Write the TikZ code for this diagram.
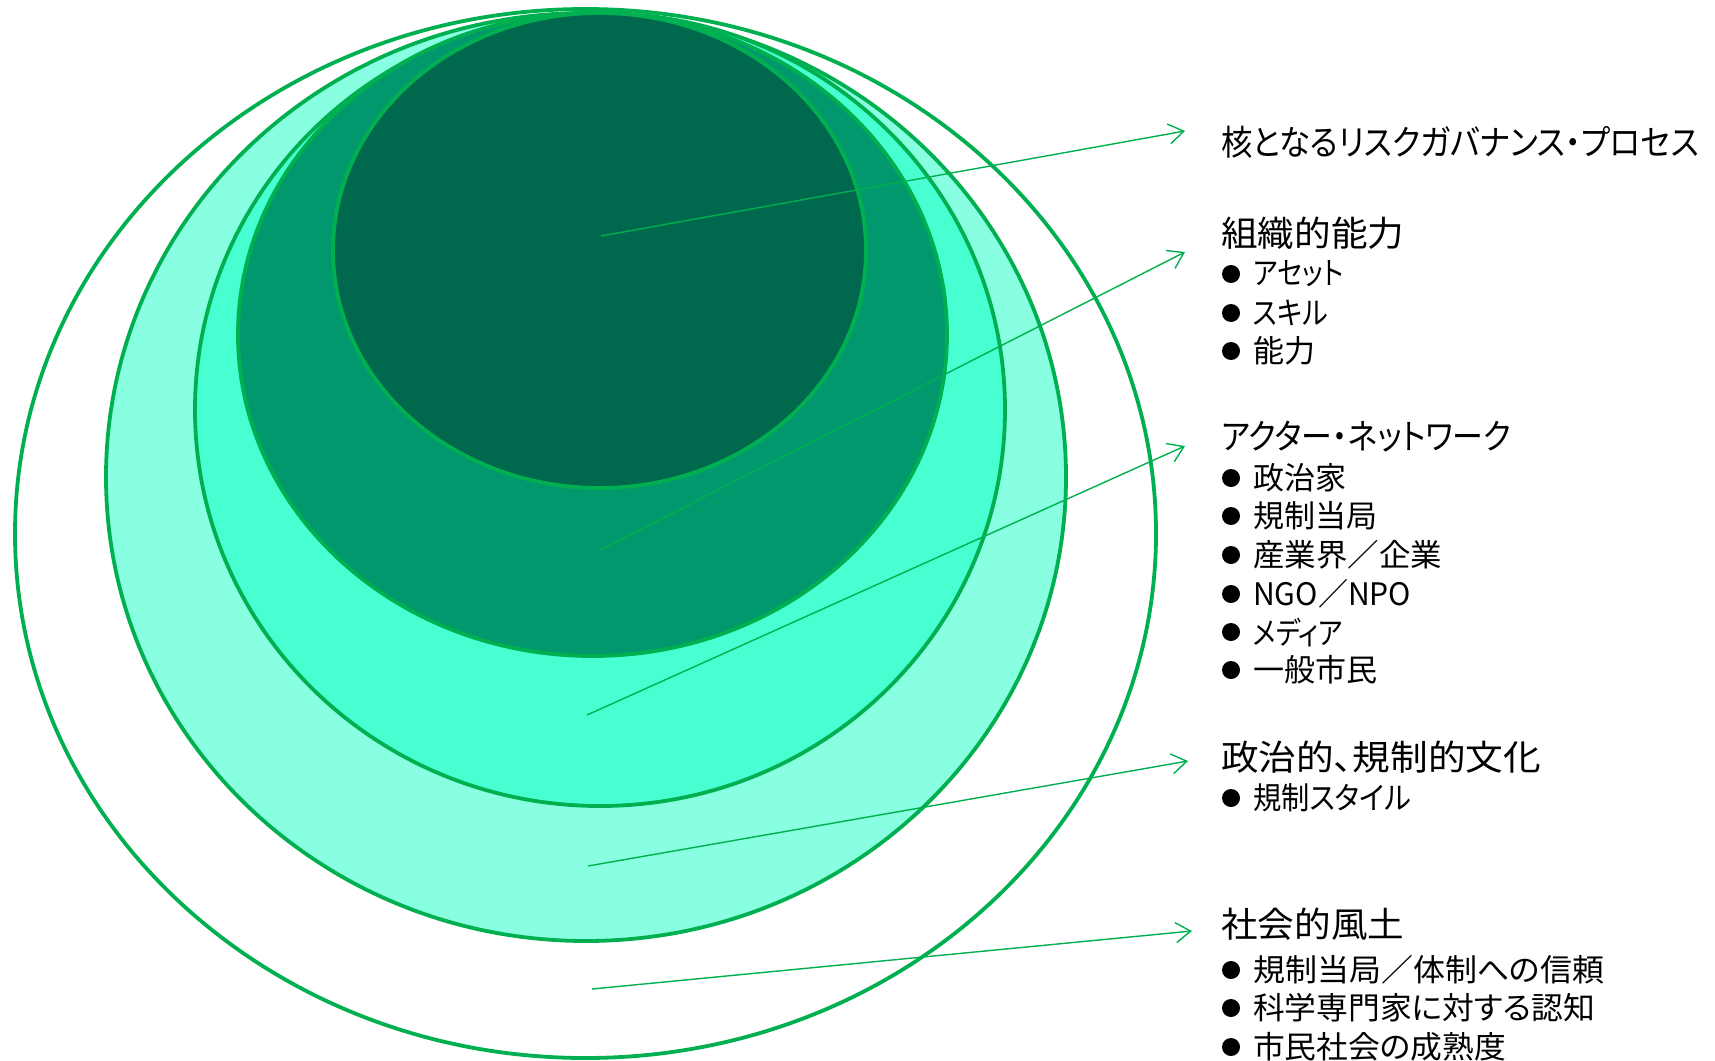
\documentclass[tikz,border=0pt]{standalone}
\usepackage{fontspec}
\usepackage{graphicx}
\setmainfont{Noto Sans CJK JP}[RawFeature={+palt}]
\usetikzlibrary{arrows.meta}
\definecolor{rimgreen}{HTML}{00B050}
\definecolor{fillLight}{HTML}{88FFE0}
\definecolor{fillAqua}{HTML}{48FFD2}
\definecolor{fillMid}{HTML}{00986C}
\definecolor{fillDark}{HTML}{00684D}
\newcommand{\fitw}[2]{\resizebox{#1}{\height}{#2}}
\tikzset{
  ring/.style={draw=rimgreen, line width=3.8pt},
  conn/.style={draw=rimgreen, line width=1.4pt, -{Straight Barb[length=15pt,width=20pt,line width=1.4pt]}},
  head/.style={anchor=west, inner sep=0pt, font=\fontsize{35}{40}\selectfont},
  item/.style={anchor=west, inner sep=0pt, font=\fontsize{31}{36}\selectfont},
  bul/.style={circle, fill=black, minimum size=18pt, inner sep=0pt}
}
\begin{document}
\begin{tikzpicture}[x=1pt,y=-1pt]
\useasboundingbox (0,0) rectangle (1715,1060);
\fill[white] (0,0) rectangle (1715,1060);
% ellipses
\draw[ring, fill=white]     (585.5,533.5) ellipse [x radius=570.5, y radius=524.5];
\draw[ring, fill=fillLight] (586,477) ellipse [x radius=480, y radius=464];
\draw[ring, fill=fillAqua]  (600,409.5) ellipse [x radius=405, y radius=396.5];
\draw[ring, fill=fillMid]   (592.5,334.5) ellipse [x radius=354.5, y radius=321.5];
\draw[ring, fill=fillDark]  (599.5,250.5) ellipse [x radius=266.5, y radius=237.5];
% connector ends
\coordinate (s1) at (601,236);
\coordinate (t1) at (1185,131);
\coordinate (s2) at (600,550);
\coordinate (t2) at (1185,252);
\coordinate (s3) at (587,715);
\coordinate (t3) at (1185,446);
\coordinate (s4) at (588,866);
\coordinate (t4) at (1188,761);
\coordinate (s5) at (592,989);
\coordinate (t5) at (1192,931);
\draw[conn] (s1) -- (t1);
\draw[conn] (s2) -- (t2);
\draw[conn] (s3) -- (t3);
\draw[conn] (s4) -- (t4);
\draw[conn] (s5) -- (t5);
% texts
\node[head] (h1) at (1221,142) {\fitw{478pt}{核となるリスクガバナンス・プロセス}};
\node[head] (h2) at (1221,233) {\fitw{183pt}{組織的能力}};
\node[bul] (b21) at (1231,274) {}; \node[item] (i21) at (1253,274) {\fitw{90pt}{アセット}};
\node[bul] (b22) at (1231,313) {}; \node[item] (i22) at (1253,313) {\fitw{75pt}{スキル}};
\node[bul] (b23) at (1231,351) {}; \node[item] (i23) at (1253,351) {能力};
\node[head] (h3) at (1221,437) {\fitw{290pt}{アクター・ネットワーク}};
\node[bul] (b31) at (1231,478) {}; \node[item] (i31) at (1253,478) {政治家};
\node[bul] (b32) at (1231,516) {}; \node[item] (i32) at (1253,516) {規制当局};
\node[bul] (b33) at (1231,555) {}; \node[item] (i33) at (1253,555) {\fitw{189pt}{産業界／企業}};
\node[bul] (b34) at (1231,594) {}; \node[item] (i34) at (1253,594) {\fitw{158pt}{NGO／NPO}};
\node[bul] (b35) at (1231,632) {}; \node[item] (i35) at (1253,632) {\fitw{90pt}{メディア}};
\node[bul] (b36) at (1231,670) {}; \node[item] (i36) at (1253,670) {一般市民};
\node[head] (h4) at (1221,757) {\fitw{320pt}{政治的、規制的文化}};
\node[bul] (b41) at (1231,798) {}; \node[item] (i41) at (1253,798) {\fitw{158pt}{規制スタイル}};
\node[head] (h5) at (1221,924) {\fitw{183pt}{社会的風土}};
\node[bul] (b51) at (1231,970) {}; \node[item] (i51) at (1253,970) {\fitw{351pt}{規制当局／体制への信頼}};
\node[bul] (b52) at (1231,1008) {}; \node[item] (i52) at (1253,1008) {\fitw{342pt}{科学専門家に対する認知}};
\node[bul] (b53) at (1231,1047) {}; \node[item] (i53) at (1253,1047) {\fitw{253pt}{市民社会の成熟度}};
\end{tikzpicture}
\end{document}
